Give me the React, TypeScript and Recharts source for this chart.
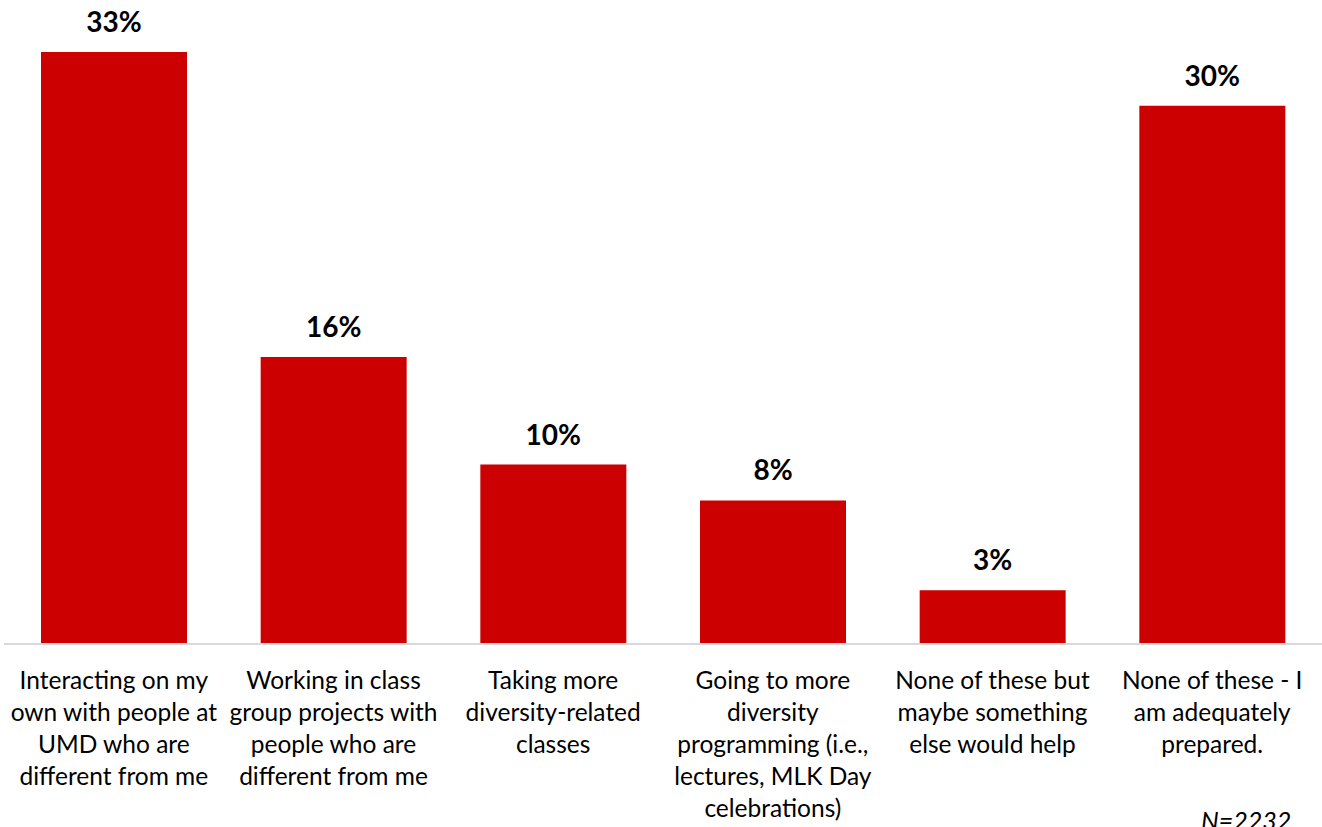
import { BarChart, Bar, XAxis, YAxis, LabelList } from "recharts";

const categories = [
  "Interacting on my own with people at UMD who are different from me",
  "Working in class group projects with people who are different from me",
  "Taking more diversity-related classes",
  "Going to more diversity programming (i.e., lectures, MLK Day celebrations)",
  "None of these but maybe something else would help",
  "None of these - I am adequately prepared.",
];

const tickLines = [
  ["Interacting on my", "own with people at", "UMD who are", "different from me"],
  ["Working in class", "group projects with", "people who are", "different from me"],
  ["Taking more", "diversity-related", "classes"],
  ["Going to more", "diversity", "programming (i.e.,", "lectures, MLK Day", "celebrations)"],
  ["None of these but", "maybe something", "else would help"],
  ["None of these - I", "am adequately", "prepared."],
];

const percents = [33, 16, 10, 8, 3, 30];

const data = categories.map((c, i) => ({ name: c, value: percents[i], idx: i }));

const FONT = "Lato, 'Open Sans', sans-serif";

function CategoryTick(props: any) {
  const { x, y, index } = props;
  const lines = tickLines[index] || [];
  return (
    <g>
      {lines.map((ln, k) => (
        <text
          key={k}
          x={x}
          y={y + 37 + k * 32}
          textAnchor="middle"
          fontSize={24.5}
          fontFamily={FONT}
          fill="#000"
        >
          {ln}
        </text>
      ))}
    </g>
  );
}

function TopLabel(props: any) {
  const { x, y, width, value } = props;
  return (
    <text
      x={x + width / 2}
      y={y - 20}
      textAnchor="middle"
      fontSize={28}
      fontWeight="bold"
      fontFamily={FONT}
      fill="#000"
    >
      {value}%
    </text>
  );
}

export default function App() {
  return (
    <div style={{ position: "absolute", left: 0, top: 0, width: 1322, height: 827, overflow: "hidden", background: "#fff" }}>
      <BarChart width={1322} height={827} data={data} margin={{ top: 16, right: 0, left: 4, bottom: 0 }}>
        <XAxis
          dataKey="name"
          height={183}
          interval={0}
          tickLine={false}
          axisLine={{ stroke: "#d9d9d9", strokeWidth: 2 }}
          tick={<CategoryTick />}
        />
        <YAxis hide domain={[0, 35]} />
        <Bar dataKey="value" fill="#cc0000" barSize={146} isAnimationActive={false}>
          <LabelList dataKey="value" content={<TopLabel />} />
        </Bar>
      </BarChart>
      <div
        style={{
          position: "absolute",
          left: 1201,
          top: 805,
          fontFamily: FONT,
          fontStyle: "italic",
          fontSize: 25,
          lineHeight: "30px",
          color: "#000",
        }}
      >
        N=2232
      </div>
    </div>
  );
}
